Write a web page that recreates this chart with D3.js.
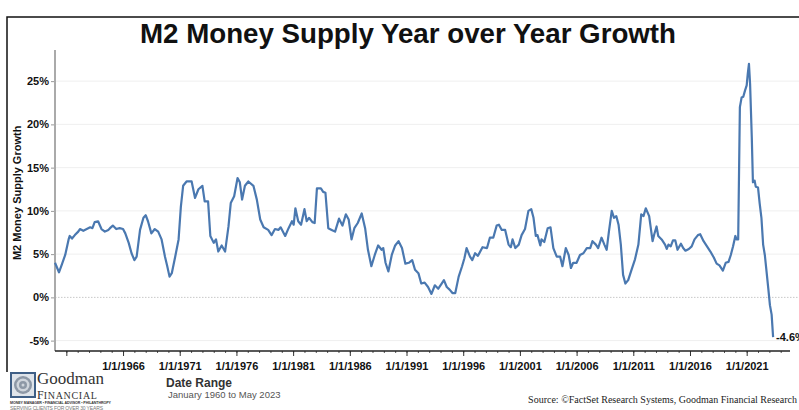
<!DOCTYPE html>
<html>
<head>
<meta charset="utf-8">
<script src="https://cdn.jsdelivr.net/npm/d3@7"></script>
<style>
    body { margin: 0; background: #fff; }
    #chart { width: 799px; height: 410px; overflow: hidden; }
</style>
</head>
<body>
<div id="chart"></div>
<script>
// M2 year over year growth (%)
const years = [
    1960.0, 1960.35, 1960.6, 1960.9, 1961.2, 1961.3, 1961.5, 1961.75, 1962.05, 1962.2, 1962.5, 1962.8,
    1963.1, 1963.3, 1963.5, 1963.8, 1964.1, 1964.4, 1964.7, 1964.85, 1965.1, 1965.4, 1965.7, 1966.0,
    1966.2, 1966.5, 1966.75, 1967.0, 1967.2, 1967.5, 1967.8, 1968.0, 1968.2, 1968.5, 1968.8, 1969.1,
    1969.4, 1969.7, 1969.9, 1970.1, 1970.3, 1970.6, 1970.9, 1971.1, 1971.3, 1971.6, 1972.05, 1972.35,
    1972.65, 1973.0, 1973.2, 1973.5, 1973.7, 1974.0, 1974.2, 1974.4, 1974.7, 1975.0, 1975.3, 1975.5,
    1975.8, 1976.1, 1976.3, 1976.5, 1976.75, 1977.05, 1977.5, 1977.8, 1978.1, 1978.4, 1978.8, 1979.1,
    1979.4, 1979.7, 1979.9, 1980.3, 1980.6, 1980.9, 1981.05, 1981.2, 1981.45, 1981.7, 1982.0, 1982.2,
    1982.4, 1982.7, 1982.9, 1983.1, 1983.45, 1983.65, 1983.85, 1984.1, 1984.4, 1984.7, 1985.05, 1985.35,
    1985.65, 1985.9, 1986.15, 1986.4, 1986.7, 1987.05, 1987.35, 1987.6, 1987.9, 1988.2, 1988.5, 1988.8,
    1988.95, 1989.15, 1989.4, 1989.7, 1990.0, 1990.3, 1990.6, 1990.9, 1991.2, 1991.5, 1991.75, 1992.05,
    1992.3, 1992.6, 1992.9, 1993.2, 1993.5, 1993.8, 1994.1, 1994.3, 1994.55, 1994.8, 1995.05, 1995.3,
    1995.6, 1995.9, 1996.1, 1996.3, 1996.6, 1996.8, 1997.05, 1997.3, 1997.7, 1998.1, 1998.35, 1998.65,
    1998.95, 1999.15, 1999.4, 1999.7, 2000.0, 2000.2, 2000.35, 2000.6, 2000.9, 2001.15, 2001.45, 2001.75,
    2002.0, 2002.2, 2002.4, 2002.55, 2002.8, 2002.9, 2003.15, 2003.45, 2003.7, 2003.95, 2004.25, 2004.55,
    2004.75, 2005.05, 2005.3, 2005.5, 2005.7, 2006.0, 2006.3, 2006.6, 2006.9, 2007.2, 2007.4, 2007.7,
    2007.9, 2008.2, 2008.45, 2008.65, 2008.85, 2009.1, 2009.3, 2009.5, 2009.7, 2009.9, 2010.1, 2010.3,
    2010.55, 2010.85, 2011.15, 2011.45, 2011.7, 2011.9, 2012.1, 2012.4, 2012.7, 2012.85, 2013.05, 2013.2,
    2013.5, 2013.8, 2013.95, 2014.1, 2014.3, 2014.5, 2014.7, 2014.9, 2015.2, 2015.4, 2015.6, 2015.9,
    2016.15, 2016.4, 2016.7, 2016.9, 2017.2, 2017.5, 2017.8, 2018.1, 2018.35, 2018.6, 2018.9, 2019.15,
    2019.4, 2019.6, 2019.8, 2020.0, 2020.1, 2020.25, 2020.4, 2020.55, 2020.7, 2020.85, 2021.0, 2021.1,
    2021.2, 2021.3, 2021.45, 2021.55, 2021.7, 2021.8, 2022.0, 2022.15, 2022.3, 2022.45, 2022.6, 2022.75,
    2022.9, 2023.05, 2023.2, 2023.33
];
const growth = [
    4.0, 2.9, 3.8, 4.9, 6.7, 7.1, 6.8, 7.2, 7.6, 7.9, 7.7, 7.9,
    8.1, 8.0, 8.7, 8.8, 7.9, 7.6, 7.8, 8.0, 8.3, 7.9, 8.0, 7.9,
    7.4, 6.3, 5.1, 4.3, 4.7, 7.8, 9.2, 9.5, 8.8, 7.4, 7.9, 7.6,
    6.7, 4.7, 3.6, 2.4, 2.8, 4.7, 6.7, 10.5, 12.9, 13.4, 13.4, 11.5,
    12.5, 12.9, 11.1, 11.1, 7.1, 6.3, 6.7, 5.3, 6.0, 5.3, 8.2, 10.9,
    11.7, 13.8, 13.3, 11.3, 12.9, 13.4, 12.9, 11.3, 9.0, 8.1, 7.8, 7.2,
    7.9, 7.8, 8.1, 7.1, 8.0, 8.8, 8.4, 10.3, 8.8, 8.4, 10.2, 8.8,
    9.2, 8.7, 8.6, 12.6, 12.6, 12.2, 12.1, 8.0, 7.8, 7.6, 9.1, 8.3,
    9.6, 9.0, 6.7, 8.0, 8.6, 9.7, 8.0, 5.5, 3.6, 4.9, 6.0, 5.5,
    5.7, 4.0, 3.0, 4.9, 6.0, 6.5, 5.7, 3.9, 4.0, 4.3, 3.2, 2.8,
    1.6, 1.7, 1.2, 0.4, 1.4, 1.0, 1.6, 2.0, 1.2, 0.9, 0.5, 0.5,
    2.4, 3.6, 4.5, 5.7, 4.7, 4.3, 5.1, 4.8, 5.8, 5.7, 6.9, 6.9,
    8.3, 8.4, 7.8, 7.8, 6.1, 5.8, 6.7, 5.7, 6.1, 7.2, 7.9, 10.0,
    10.2, 9.2, 7.1, 7.2, 6.0, 6.7, 6.4, 8.0, 8.1, 5.7, 4.7, 4.7,
    3.6, 5.7, 4.9, 3.4, 4.0, 4.0, 4.9, 5.1, 5.7, 5.7, 6.5, 6.1,
    5.7, 6.9, 6.1, 5.5, 7.6, 10.0, 9.2, 9.4, 8.4, 6.1, 2.6, 1.6,
    2.0, 3.2, 4.4, 6.1, 9.6, 9.4, 10.3, 9.4, 6.5, 7.3, 8.2, 7.1,
    6.7, 6.1, 5.6, 6.1, 5.9, 6.6, 6.6, 5.5, 6.2, 5.7, 5.4, 5.6,
    5.9, 6.7, 7.2, 7.3, 6.5, 5.9, 5.3, 4.6, 3.9, 3.7, 3.1, 4.0,
    4.1, 4.9, 5.9, 7.1, 6.7, 6.7, 22.0, 23.1, 23.2, 23.9, 24.5, 25.9,
    27.0, 24.7, 18.5, 13.3, 13.5, 12.8, 12.7, 10.8, 9.2, 6.1, 4.9, 3.0,
    1.1, -0.9, -2.0, -4.6
];
const yTicks = [-5, 0, 5, 10, 15, 20, 25];
const majorTickYears = [1961, 1966, 1971, 1976, 1981, 1986, 1991, 1996, 2001, 2006, 2011, 2016, 2021];
const labelYears = [1966, 1971, 1976, 1981, 1986, 1991, 1996, 2001, 2006, 2011, 2016, 2021];

class GrowthChart {
    constructor(containerId) {
        this.containerId = containerId;
        this.width = 799;
        this.height = 410;
        this.plot = { left: 55, right: 790, top: 50, bottom: 351 };
        this.lineColor = '#4a78b0';
    }

    init() {
        this.data = years.map((y, i) => ({ year: y, value: growth[i] }));
        this.svg = d3.select(`#${this.containerId}`)
            .append('svg')
            .attr('width', this.width)
            .attr('height', this.height)
            .style('font-family', 'Arial, "Liberation Sans", sans-serif');

        this.xScale = d3.scaleLinear()
            .domain([1960, 2024.82])
            .range([this.plot.left, this.plot.right]);
        this.yScale = d3.scaleLinear()
            .domain([-6.2, 28.6])
            .range([this.plot.bottom, this.plot.top]);

        this.drawFrame();
        this.drawGrid();
        this.drawAxes();
        this.drawLine();
        this.drawFooter();
    }

    drawFrame() {
        this.svg.append('path')
            .attr('d', 'M7,372 V17 H799')
            .attr('fill', 'none')
            .attr('stroke', '#111')
            .attr('stroke-width', 1.5);

        // Arial Narrow is not installed, so squeeze the regular bold face
        this.svg.append('text')
            .attr('x', 140)
            .attr('y', 43)
            .attr('textLength', 536)
            .attr('lengthAdjust', 'spacingAndGlyphs')
            .style('font-family', '"Liberation Sans", Arial, sans-serif')
            .style('font-size', '28px')
            .style('font-weight', 'bold')
            .attr('fill', '#111')
            .text('M2 Money Supply Year over Year Growth');
    }

    drawGrid() {
        this.svg.append('g')
            .selectAll('line')
            .data(yTicks)
            .enter()
            .append('line')
            .attr('x1', this.plot.left)
            .attr('x2', this.width)
            .attr('y1', d => this.yScale(d))
            .attr('y2', d => this.yScale(d))
            .attr('stroke', d => d === 0 ? '#c8c8c8' : '#efefef')
            .attr('stroke-dasharray', d => d === 0 ? '1.5,1.5' : null)
            .attr('stroke-width', 1);
    }

    drawAxes() {
        const yAxis = this.svg.append('g')
            .attr('transform', `translate(${this.plot.left},0)`)
            .call(d3.axisLeft(this.yScale).tickValues(yTicks).tickSize(4).tickPadding(2).tickFormat(d => d + '%'));
        yAxis.select('.domain').remove();
        yAxis.selectAll('.tick line').attr('stroke', '#999');
        yAxis.selectAll('text')
            .style('font-size', '11px')
            .style('font-weight', 'bold')
            .attr('fill', '#111');
        this.svg.append('line')
            .attr('x1', this.plot.left).attr('x2', this.plot.left)
            .attr('y1', this.plot.top).attr('y2', this.plot.bottom)
            .attr('stroke', '#aaa')
            .attr('stroke-width', 2);

        // minor ticks every year
        const minorYears = d3.range(1961, 2025);
        const xAxis = this.svg.append('g')
            .attr('transform', `translate(0,${this.plot.bottom})`);
        xAxis.call(d3.axisBottom(this.xScale).tickValues(minorYears).tickSize(2).tickFormat(''))
            .select('.domain').remove();
        xAxis.selectAll('.tick line').attr('stroke', '#555');

        const major = this.svg.append('g')
            .attr('transform', `translate(0,${this.plot.bottom})`)
            .call(d3.axisBottom(this.xScale).tickValues(majorTickYears).tickSize(5).tickPadding(6)
                .tickFormat(d => labelYears.includes(d) ? '1/1/' + d : ''));
        major.select('.domain').remove();
        major.selectAll('.tick line').attr('stroke', '#333');
        major.selectAll('text')
            .style('font-size', '11px')
            .style('font-weight', 'bold')
            .attr('fill', '#111');

        this.svg.append('line')
            .attr('x1', this.plot.left).attr('x2', this.plot.right)
            .attr('y1', this.plot.bottom).attr('y2', this.plot.bottom)
            .attr('stroke', '#222')
            .attr('stroke-width', 1.5);

        this.svg.append('text')
            .attr('transform', `translate(21,${(this.yScale(25) + this.yScale(-5)) / 2 - 18}) rotate(-90)`)
            .attr('text-anchor', 'middle')
            .style('font-size', '11px')
            .style('font-weight', 'bold')
            .attr('fill', '#111')
            .text('M2 Money Supply Growth');
    }

    drawLine() {
        const line = d3.line()
            .x(d => this.xScale(d.year))
            .y(d => this.yScale(d.value));

        this.svg.append('path')
            .datum(this.data)
            .attr('fill', 'none')
            .attr('stroke', this.lineColor)
            .attr('stroke-width', 2.2)
            .attr('stroke-linejoin', 'round')
            .attr('d', line);

        // end label runs off the right edge, as in the original
        const last = this.data[this.data.length - 1];
        this.svg.append('text')
            .attr('x', this.xScale(last.year) + 3)
            .attr('y', this.yScale(last.value) + 4)
            .style('font-size', '11px')
            .style('font-weight', 'bold')
            .attr('fill', '#111')
            .text(last.value.toFixed(1) + '%');
    }

    drawFooter() {
        // logo
        const logo = this.svg.append('g');
        logo.append('rect')
            .attr('x', 10).attr('y', 372).attr('width', 26).attr('height', 26)
            .attr('fill', '#3f5f86');
        logo.append('rect')
            .attr('x', 12).attr('y', 374).attr('width', 22).attr('height', 22)
            .attr('fill', '#dfe4ea');
        [9, 6.5, 4, 1.5].forEach((r, i) => {
            logo.append('circle')
                .attr('cx', 23).attr('cy', 385).attr('r', r)
                .attr('fill', i % 2 === 0 ? '#8d98a6' : '#cfd5dc');
        });
        const serif = '"Liberation Serif", "Times New Roman", serif';
        logo.append('text')
            .attr('x', 37).attr('y', 384)
            .style('font-family', serif)
            .style('font-size', '17px')
            .attr('fill', '#333')
            .text('Goodman');
        const fin = logo.append('text')
            .attr('x', 37).attr('y', 398.5)
            .style('font-family', serif)
            .attr('fill', '#333');
        fin.append('tspan').style('font-size', '12px').text('F');
        fin.append('tspan').style('font-size', '10px').attr('letter-spacing', '0.7').text('INANCIAL');
        logo.append('text')
            .attr('x', 10).attr('y', 403.5)
            .style('font-size', '3.6px')
            .style('font-weight', 'bold')
            .attr('fill', '#333')
            .attr('textLength', 101)
            .text('MONEY MANAGER • FINANCIAL ADVISOR • PHILANTHROPY');
        logo.append('text')
            .attr('x', 10).attr('y', 410)
            .style('font-size', '5px')
            .attr('fill', '#777')
            .attr('textLength', 93)
            .text('SERVING CLIENTS FOR OVER 30 YEARS');

        this.svg.append('text')
            .attr('x', 166).attr('y', 387)
            .style('font-size', '12px')
            .style('font-weight', 'bold')
            .attr('fill', '#333')
            .text('Date Range');
        this.svg.append('text')
            .attr('x', 168).attr('y', 398)
            .style('font-size', '9.5px')
            .attr('fill', '#555')
            .text('January 1960 to May 2023');

        this.svg.append('text')
            .attr('x', 797).attr('y', 403)
            .attr('text-anchor', 'end')
            .style('font-family', serif)
            .style('font-size', '10px')
            .attr('fill', '#222')
            .text('Source: ©FactSet Research Systems, Goodman Financial Research');
    }
}

const chart = new GrowthChart('chart');
chart.init();
</script>
</body>
</html>
